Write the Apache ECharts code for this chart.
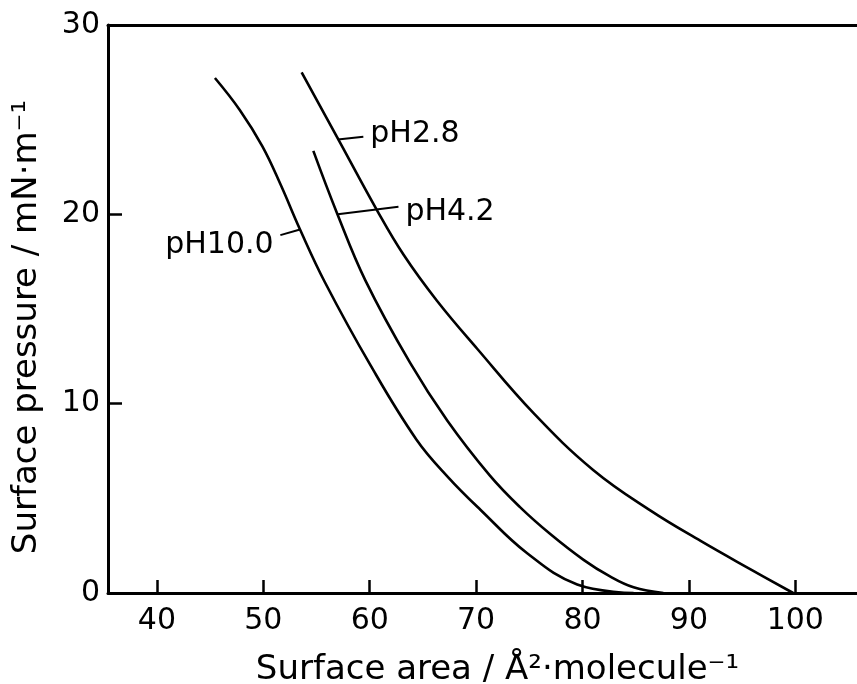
<!DOCTYPE html>
<html>
<head>
<meta charset="utf-8">
<script src="https://cdn.jsdelivr.net/npm/echarts@6/dist/echarts.min.js"></script>
<style>
  html, body { margin: 0; padding: 0; background: #fff; }
  #main { width: 857px; height: 684px; }
</style>
</head>
<body>
<div id="main"></div>
<script>
// tick values
const xTicks = [40, 50, 60, 70, 80, 90, 100];
const yTicks = [0, 10, 20, 30];

// isotherms, [area, pressure]
const ph28 = [[53.6, 27.5], [57.2, 23.8], [60.7, 20.2], [63.2, 17.85], [66.3, 15.45], [70.1, 12.9], [75.4, 9.5], [81.0, 6.5], [86.4, 4.35], [91.1, 2.75], [95.8, 1.25], [99.8, 0]];
const ph42 = [[54.7, 23.35], [56.9, 20.1], [59.6, 16.5], [63.8, 12.15], [67.3, 9.1], [71.3, 6.2], [74.1, 4.55], [77.0, 3.1], [80.1, 1.75], [82.5, 0.9], [84.8, 0.3], [87.6, 0]];
const ph100 = [[45.45, 27.2], [47.8, 25.5], [49.9, 23.6], [51.6, 21.6], [53.45, 19.2], [55.8, 16.4], [60.0, 12.1], [64.4, 8.1], [67.4, 6.1], [70.4, 4.4], [74.8, 2.1], [79.5, 0.45], [84.8, 0]];

// curve labels and where the little leader lines go
const labelNames = ['pH2.8', 'pH4.2', 'pH10.0'];
const leaderFrom = [[57.0, 23.95], [57.0, 20.0], [53.45, 19.2]];
const leaderTo = [[59.4, 24.1], [62.7, 20.4], [51.6, 18.9]];
const labelShift = [[0, -2], [0, 6], [0, 8]];

const FONT = 'DejaVu Sans';
var chartDom = document.getElementById('main');
var myChart = echarts.init(chartDom);

function curve(data, i) {
  return {
    type: 'line',
    data: data,
    smooth: 0.4,
    symbol: 'none',
    lineStyle: { color: '#000', width: 2.6 },
    markLine: {
      silent: true,
      symbol: 'none',
      lineStyle: { color: '#000', width: 2, type: 'solid' },
      label: {
        show: true,
        position: 'end',
        formatter: labelNames[i],
        color: '#000',
        fontFamily: FONT,
        fontSize: 30,
        distance: 7,
        offset: labelShift[i]
      },
      data: [[{ coord: leaderFrom[i] }, { coord: leaderTo[i] }]]
    }
  };
}

var option = {
  backgroundColor: '#fff',
  animation: false,
  grid: { left: 108, right: 0, top: 25, bottom: 91, outerBoundsMode: 'none' },
  xAxis: [{
    type: 'value',
    min: 35.4,
    max: 105.8,
    name: 'Surface area / Å²·molecule⁻¹',
    nameLocation: 'middle',
    nameGap: 60,
    nameTextStyle: { fontFamily: FONT, fontSize: 34, color: '#000', padding: [0, 0, 0, 30] },
    axisLine: { lineStyle: { color: '#000', width: 3 } },
    axisTick: { inside: true, length: 13, customValues: xTicks, lineStyle: { color: '#000', width: 2.5 } },
    axisLabel: { customValues: xTicks, fontFamily: FONT, fontSize: 30, color: '#000', margin: 13 },
    splitLine: { show: false }
  }, {
    type: 'value',
    position: 'top',
    min: 35.4,
    max: 105.8,
    axisLine: { show: true, onZero: false, lineStyle: { color: '#000', width: 3 } },
    axisTick: { show: false },
    axisLabel: { show: false },
    splitLine: { show: false }
  }],
  yAxis: {
    type: 'value',
    min: 0,
    max: 30,
    interval: 10,
    name: 'Surface pressure / mN·m⁻¹',
    nameLocation: 'middle',
    nameGap: 64,
    nameTextStyle: { fontFamily: FONT, fontSize: 34, color: '#000', padding: [0, 36, 0, 0] },
    axisLine: { show: true, lineStyle: { color: '#000', width: 3 } },
    axisTick: { inside: true, length: 14, customValues: yTicks, lineStyle: { color: '#000', width: 2.5 } },
    axisLabel: { customValues: yTicks, fontFamily: FONT, fontSize: 30, color: '#000', margin: 8 },
    splitLine: { show: false }
  },
  series: [curve(ph28, 0), curve(ph42, 1), curve(ph100, 2)]
};
option && myChart.setOption(option);
</script>
</body>
</html>
